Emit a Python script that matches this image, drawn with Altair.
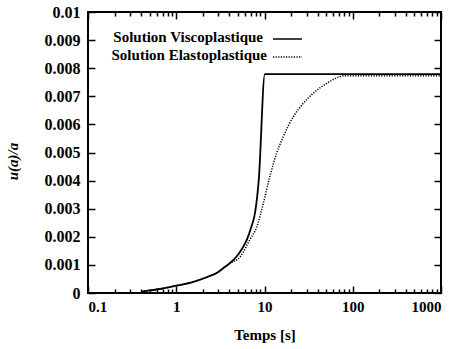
import altair as alt
import pandas as pd

# ---- data ----
visco_t = [0.4, 0.5, 0.7, 1.0, 1.5, 2.2, 3.0, 3.4, 4.0, 4.8, 5.5, 6.3, 7.1, 7.8, 8.6, 10.1, 1000]
visco_u = [0.00005, 0.00009, 0.00016, 0.00026, 0.00038, 0.00056, 0.00075, 0.00088, 0.00105,
           0.00129, 0.00155, 0.00189, 0.00236, 0.00284, 0.0040, 0.00779, 0.00779]

elasto_t = [0.4, 0.5, 0.7, 1.0, 1.5, 2.2, 3.0, 3.4, 4.0, 5.3, 6.8, 8.2, 9.7, 11.5, 13.7, 16.3,
            21.2, 27.5, 35.7, 50.7, 71.8, 80, 1000]
elasto_u = [0.00005, 0.00009, 0.00016, 0.00026, 0.00038, 0.00056, 0.00075, 0.00088, 0.00104,
            0.00129, 0.00189, 0.00236, 0.00319, 0.00414, 0.00497, 0.00556, 0.00627, 0.00675,
            0.00711, 0.00746, 0.00770, 0.00773, 0.00773]

x_major = [0.1, 1, 10, 100, 1000]
x_minor = [m * d for d in [0.1, 1, 10, 100] for m in range(2, 10)]
y_ticks = [0, 0.001, 0.002, 0.003, 0.004, 0.005, 0.006, 0.007, 0.008, 0.009, 0.01]

legend_labels = ["Solution Viscoplastique", "Solution Elastoplastique"]
x_title = "Temps [s]"
y_title = "u(a)/a"

FONT = "Liberation Serif"
FS = 15
W, H = 353, 281

visco = pd.DataFrame({"t": visco_t, "u": visco_u})
elasto = pd.DataFrame({"t": elasto_t, "u": elasto_u})

xscale = alt.Scale(type="log", domain=[0.1, 1000], nice=False)
yscale = alt.Scale(domain=[0, 0.01], nice=False, zero=False)

common = dict(labelFont=FONT, labelColor="black", labelFontWeight="bold",
              titleFont=FONT, titleFontSize=FS, titleColor="black", titleFontWeight="bold",
              tickColor="black", tickWidth=1.5, grid=False, domain=False)


def xenc(axis):
    return alt.X("t:Q", scale=xscale, axis=axis)


def yenc(axis):
    return alt.Y("u:Q", scale=yscale, axis=axis)


ax_x_labels = alt.Axis(values=x_major, format="~g", ticks=False, labelPadding=6, labelFontSize=15,
                       title=x_title, titleY=46, titleBaseline="alphabetic", **common)
ax_x_major_b = alt.Axis(values=x_major, orient="bottom", offset=-7, tickSize=7, labels=False,
                        title=None, **common)
ax_x_minor_b = alt.Axis(values=x_minor, orient="bottom", offset=-4, tickSize=4, labels=False,
                        title=None, **common)
ax_x_major_t = alt.Axis(values=x_major, orient="top", offset=-7, tickSize=7, labels=False,
                        title=None, **common)
ax_x_minor_t = alt.Axis(values=x_minor, orient="top", offset=-4, tickSize=4, labels=False,
                        title=None, **common)

ax_y_labels = alt.Axis(values=y_ticks, format="~g", ticks=False, labelPadding=8, labelFontSize=16,
                       title=y_title, titleX=-76, titleY=149,
                       titleAngle=270, titleAlign="center", titleBaseline="middle",
                       titleFontStyle="italic", **common)
ax_y_left = alt.Axis(values=y_ticks, orient="left", offset=-7, tickSize=7, labels=False,
                     title=None, **common)
ax_y_right = alt.Axis(values=y_ticks, orient="right", offset=-7, tickSize=7, labels=False,
                      title=None, **common)

l1 = alt.Chart(visco).mark_line(color="black", strokeWidth=1.8, interpolate="monotone").encode(
    x=xenc(ax_x_labels), y=yenc(ax_y_labels))
l2 = alt.Chart(elasto).mark_line(color="black", strokeWidth=1.5, strokeDash=[1.2, 1.4],
                                 interpolate="monotone").encode(
    x=xenc(ax_x_major_b), y=yenc(ax_y_left))
l3 = alt.Chart(visco).mark_line(opacity=0).encode(
    x=xenc(ax_x_minor_b), y=yenc(ax_y_right))
l4 = alt.Chart(visco).mark_line(opacity=0).encode(
    x=xenc(ax_x_major_t), y=yenc(None))
l5 = alt.Chart(visco).mark_line(opacity=0).encode(
    x=xenc(ax_x_minor_t), y=yenc(None))

text_style = dict(align="right", baseline="middle", font=FONT, fontSize=FS,
                  fontWeight="bold", color="black")
leg1_t = alt.Chart(pd.DataFrame({"label": [legend_labels[0]]})).mark_text(**text_style).encode(
    text="label:N", x=alt.value(175), y=alt.value(25))
leg2_t = alt.Chart(pd.DataFrame({"label": [legend_labels[1]]})).mark_text(**text_style).encode(
    text="label:N", x=alt.value(179), y=alt.value(43))
leg1_l = alt.Chart(pd.DataFrame({"label": [legend_labels[0]]})).mark_rule(
    color="black", strokeWidth=1.5).encode(x=alt.value(185), x2=alt.value(214), y=alt.value(27))
leg2_l = alt.Chart(pd.DataFrame({"label": [legend_labels[1]]})).mark_rule(
    color="black", strokeWidth=1.5, strokeDash=[1.2, 1.4]).encode(
    x=alt.value(185), x2=alt.value(214), y=alt.value(45))

chart = alt.layer(l1, l2, l3, l4, l5, leg1_t, leg2_t, leg1_l, leg2_l).resolve_axis(
    x="independent", y="independent"
).properties(
    width=W, height=H,
    padding={"left": 88, "top": 12, "right": 17, "bottom": 56},
    autosize=alt.AutoSizeParams(type="none"),
    background="white",
).configure(
    font=FONT
).configure_axis(
    labelFont=FONT, titleFont=FONT
).configure_view(
    stroke="black", strokeWidth=2
)

chart.save("out.html", embed_options={"renderer": "svg", "actions": False})
